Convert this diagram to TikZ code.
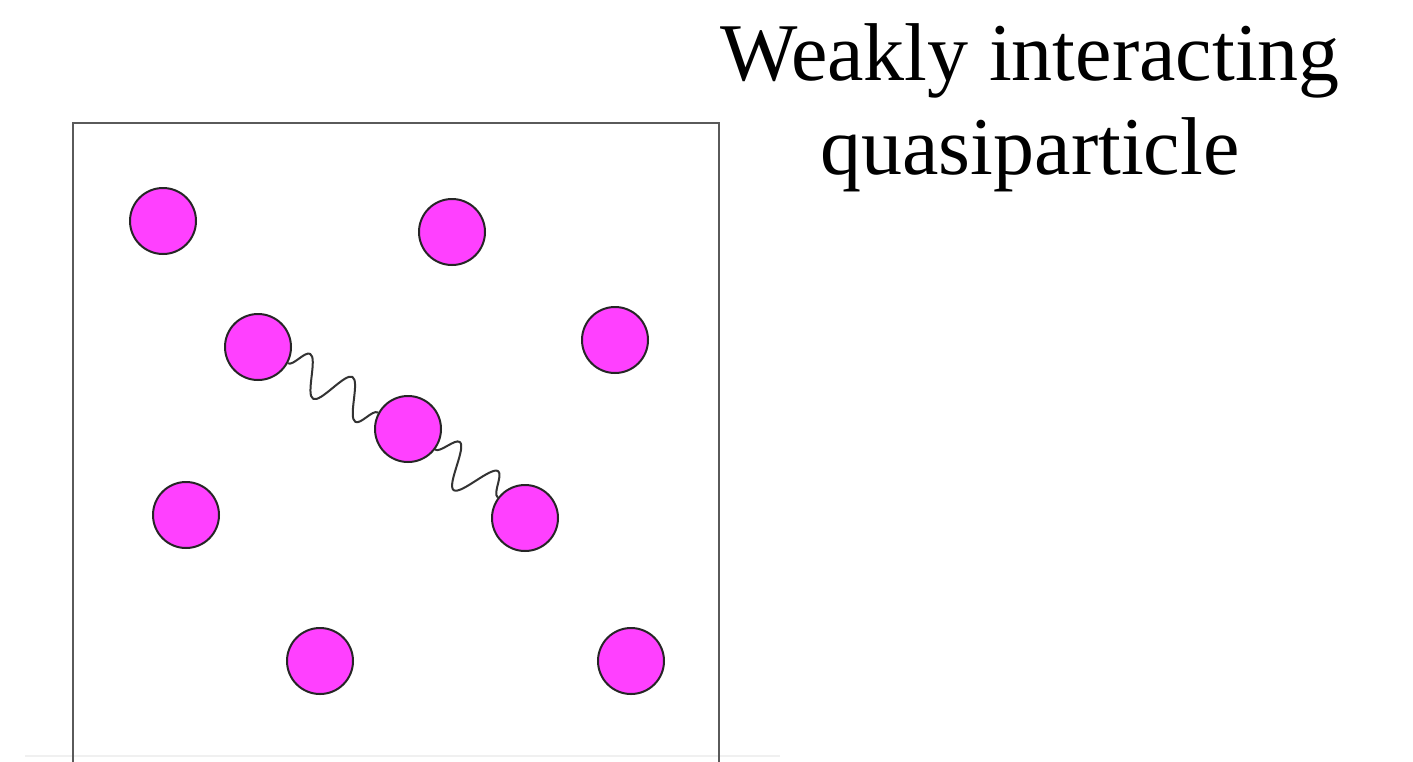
\documentclass[tikz,border=0pt]{standalone}
\usepackage{fontspec}
\setmainfont{Liberation Serif}
\usetikzlibrary{decorations.pathmorphing}
\definecolor{ball}{RGB}{255,64,255}
\definecolor{boxgray}{RGB}{90,90,90}
\begin{document}
\begin{tikzpicture}[x=1pt,y=-1pt,
  ball/.style={circle,draw=black!85,line width=2pt,fill=ball,minimum size=66pt,inner sep=0pt},
  wave/.style 2 args={draw=black!80,line width=2pt,line join=round,decorate,decoration={snake,segment length=#1,amplitude=#2,pre length=0pt,post length=0pt}},
  title/.style={anchor=base,font=\fontsize{82}{94}\selectfont}]
\useasboundingbox (0,0) rectangle (1413,761);
\fill[white] (0,0) rectangle (1413,761);
\draw[black!6,line width=1.5pt] (25,756) -- (780,756);
\draw[boxgray,line width=2.5pt] (73,770) -- (73,123) -- (719,123) -- (719,770);
\node[ball] (c1) at (163,221) {};
\node[ball] (c2) at (452,232) {};
\node[ball] (c3) at (258,347) {};
\node[ball] (c4) at (615,340) {};
\node[ball] (c5) at (408,429) {};
\node[ball] (c6) at (186,515) {};
\node[ball] (c7) at (525,518) {};
\node[ball] (c8) at (320,661) {};
\node[ball] (c9) at (631,661) {};
\draw[wave={48.2pt}{19pt}] (c3) -- (c5);
\draw[wave={48.3pt}{21pt}] (c5) -- (c7);
\node[title] (t1) at (1030,80) {Weakly interacting};
\node[title] (t2) at (1030,174) {quasiparticle};
\end{tikzpicture}
\end{document}
